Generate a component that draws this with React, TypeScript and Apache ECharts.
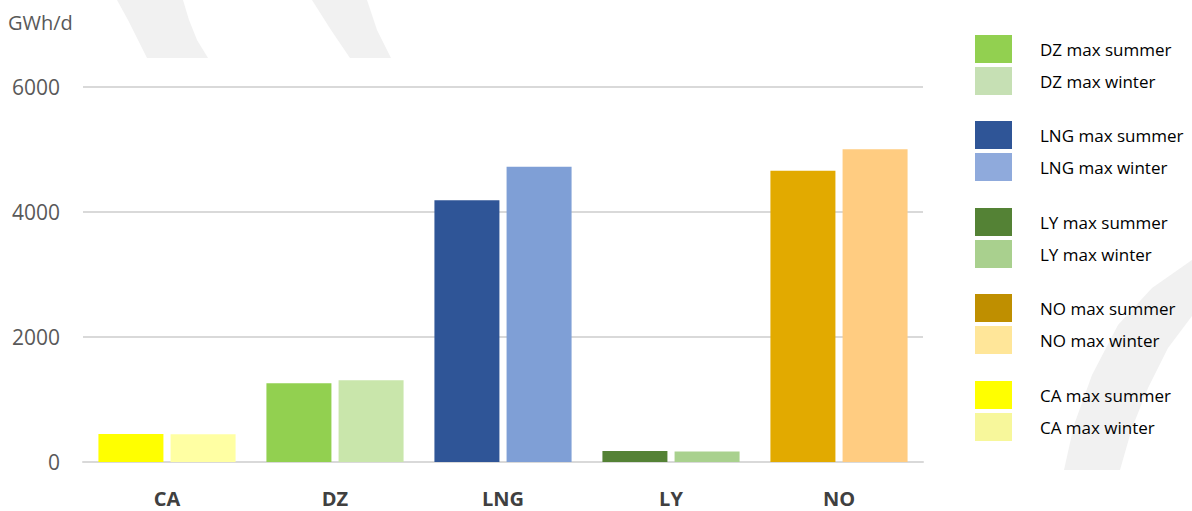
import React, { useEffect, useRef } from "react";
import * as echarts from "echarts";

const categories = ["CA", "DZ", "LNG", "LY", "NO"];
const summerValues = [450, 1260, 4190, 175, 4660];
const winterValues = [445, 1310, 4725, 170, 5005];
const yTicks = [0, 2000, 4000, 6000];
const unitLabel = "GWh/d";

// legend order
const legendOrder = ["DZ", "LNG", "LY", "NO", "CA"];
const barColors: Record<string, [string, string]> = {
  CA: ["#ffff00", "#ffffa3"],
  DZ: ["#92d050", "#c9e6ab"],
  LNG: ["#2f5597", "#7f9fd6"],
  LY: ["#548235", "#a9d18e"],
  NO: ["#e2aa00", "#ffcc81"],
};
const legendColors: Record<string, [string, string]> = {
  CA: ["#ffff00", "#f7f79b"],
  DZ: ["#92d050", "#c6e0b4"],
  LNG: ["#2f5597", "#8faadc"],
  LY: ["#548235", "#a9d08e"],
  NO: ["#bf8f00", "#ffe699"],
};

const FONT = "'Open Sans', 'Noto Sans', sans-serif";

export default function App() {
  const ref = useRef<HTMLDivElement>(null);
  useEffect(() => {
    if (!ref.current) return;
    const chart = echarts.init(ref.current, undefined, { renderer: "svg" });

    const series: any[] = [];
    legendOrder.forEach((code) => {
      const idx = categories.indexOf(code);
      ["summer", "winter"].forEach((season, si) => {
        const vals = si === 0 ? summerValues : winterValues;
        series.push({
          name: `${code} max ${season}`,
          type: "bar",
          stack: season,
          barWidth: 65,
          barGap: "11%",
          data: categories.map((_, i) => (i === idx ? vals[i] : "-")),
          itemStyle: { color: barColors[code][si] },
        });
      });
    });

    const groupTops = [35, 121, 208, 294, 381];
    const legends = legendOrder.map((code, gi) => ({
      orient: "vertical",
      left: 975,
      top: groupTops[gi],
      padding: 0,
      itemWidth: 37,
      itemHeight: 28,
      itemGap: 4,
      icon: "rect",
      selectedMode: false,
      textStyle: { fontFamily: FONT, fontSize: 17, color: "#000", padding: [0, 0, 0, 23] },
      data: ["summer", "winter"].map((season, si) => ({
        name: `${code} max ${season}`,
        itemStyle: { color: legendColors[code][si] },
      })),
    }));

    const wm = "#f1f1f1";
    chart.setOption({
      animation: false,
      textStyle: { fontFamily: FONT },
      grid: { left: 83, right: 269, top: 87, bottom: 49 },
      legend: legends,
      graphic: [
        {
          type: "polygon",
          z: -10,
          silent: true,
          shape: {
            points: [
              [117, 0], [128, 20], [138, 40], [147, 58],
              [208, 58], [197, 40], [189, 20], [183, 0],
            ],
          },
          style: { fill: wm },
        },
        {
          type: "polygon",
          z: -10,
          silent: true,
          shape: {
            points: [
              [312, 0], [331, 30], [350, 58],
              [391, 58], [377, 30], [367, 0],
            ],
          },
          style: { fill: wm },
        },
        {
          type: "polygon",
          z: -10,
          silent: true,
          shape: {
            points: [
              [1064, 470], [1074, 425], [1092, 375], [1118, 325], [1152, 288], [1192, 260],
              [1192, 316], [1168, 348], [1148, 388], [1132, 428], [1120, 470],
            ],
          },
          style: { fill: wm },
        },
        {
          type: "text",
          left: 8,
          top: 12,
          style: { text: unitLabel, fontFamily: FONT, fontSize: 20, fill: "#595959" },
        },
      ],
      xAxis: {
        type: "category",
        data: categories,
        axisLine: { show: true, lineStyle: { color: "#d9d9d9", width: 2 } },
        axisTick: { show: false },
        axisLabel: {
          color: "#404040",
          fontFamily: FONT,
          fontSize: 20,
          fontWeight: "bold",
          margin: 26,
        },
      },
      yAxis: {
        type: "value",
        min: yTicks[0],
        max: yTicks[yTicks.length - 1],
        interval: yTicks[1] - yTicks[0],
        axisLine: { show: false },
        axisTick: { show: false },
        splitLine: { lineStyle: { color: "#d9d9d9", width: 2 } },
        axisLabel: {
          color: "#595959",
          fontFamily: FONT,
          fontSize: 21,
          margin: 23,
          formatter: (v: number) => String(v),
        },
      },
      series,
    });
    return () => chart.dispose();
  }, []);
  return (
    <div
      ref={ref}
      style={{ position: "fixed", left: 0, top: 0, width: 1192, height: 511, background: "#fff" }}
    />
  );
}
